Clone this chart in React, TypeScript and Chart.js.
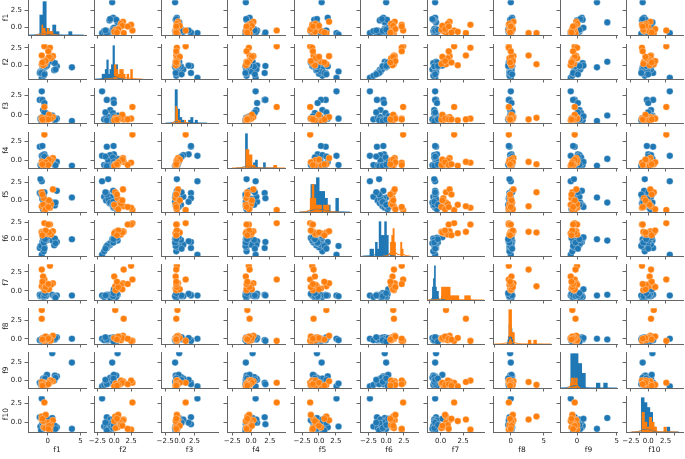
import React, { useEffect, useRef } from "react";
import { Chart, registerables } from "chart.js";

Chart.register(...registerables);

// ---------- data ----------
const FEATURES = ["f1", "f2", "f3", "f4", "f5", "f6", "f7", "f8", "f9", "f10"];

// class 0 (blue)
const blueF1 = [3.7, 0.7, -0.9, -1.1, -1.2, -0.8, -0.5, -0.7, 1.4, -0.6, -0.5, 1.0, -0.6, -0.2, 1.1, -0.8, 1.2, -0.7, -0.3, -1.0, -0.1, -0.6, -0.5, -0.4];
const blueF2 = [-0.3, 0.5, -1.8, -0.9, -1.1, -0.1, -0.05, -0.6, -0.15, -1.5, -1.2, -0.7, -0.2, -0.1, 0.3, -0.9, -0.6, 0.4, -0.2, -1.1, -0.05, -0.15, -1.3, -0.1];
const blueF3 = [-0.8, -0.1, 3.0, -0.5, 1.9, 1.9, 1.5, 0.6, -0.5, -0.6, -0.4, -0.5, -0.6, -0.4, -0.7, -0.3, -0.6, -0.5, 0.2, -0.7, -0.2, -0.8, 0.3, -0.6];
const blueF4 = [-0.7, 0.2, 0.6, -0.6, 1.8, 1.9, 0.8, 0.7, -0.2, -0.6, -0.65, -0.55, -0.7, -0.6, -0.6, 0.0, -0.65, -0.6, 0.4, -0.75, -0.2, -0.7, 0.5, -0.55];
const blueF5 = [0.4, -0.3, 2.6, 2.9, 1.0, 0.3, -0.2, 0.5, 1.3, 0.5, 0.0, -0.4, -0.8, -1.0, -0.7, 0.2, -0.3, -1.2, -0.6, 0.8, -0.9, -0.2, 1.1, -0.6];
const blueF6 = [0.0, -0.2, -2.3, -1.0, -1.3, -0.4, -0.3, -0.8, -0.4, -1.8, -1.2, -0.9, -0.5, -0.2, 0.1, -0.8, -0.6, 0.2, -0.1, -1.0, 0.3, -0.5, -1.4, 0.0];
const blueF7 = [-0.6, -0.5, -0.6, -0.7, -0.5, -0.6, -0.4, -0.7, -0.6, -0.8, -0.6, -0.7, -0.3, -0.6, -0.8, -0.5, -0.9, -0.4, -0.7, -0.6, 0.2, -0.7, -0.6, -0.3];
const blueF8 = [0.0, -0.1, 0.0, -0.2, -0.2, -0.3, 0.1, -0.1, 0.2, -0.2, 0.0, 0.1, -0.2, 0.2, -0.1, 0.0, 0.1, -0.3, 0.0, -0.1, 0.1, -0.2, 0.2, -0.4];
const blueF9 = [2.5, 3.8, -0.8, -0.4, -0.3, -0.5, 0.1, 0.3, 0.6, -0.6, -0.4, 0.0, 0.2, -0.1, 0.7, -0.3, 0.4, -0.7, 0.5, -0.5, 0.8, -0.2, 0.1, 0.3];
const blueF10 = [-0.8, 0.6, 3.1, -0.5, 0.7, -0.2, 0.0, 0.4, -0.6, -0.5, -0.7, -0.9, -0.2, 0.2, -0.4, -0.1, -0.8, 0.3, 0.1, -1.0, 0.5, -0.7, 0.0, -0.3];

// class 1 (orange)
const orangeF1 = [-0.5, 0.35, -0.9, -0.9, 0.8, -0.6, 0.0, -0.4, 0.5, -0.7, 0.2, -0.3, 0.1, -0.8];
const orangeF2 = [2.7, 2.5, 1.4, 0.15, 1.3, 0.5, 0.9, 0.2, 1.0, 0.0, 1.2, 0.6, 2.0, 0.4];
const orangeF3 = [1.0, -0.5, -0.6, -0.4, -0.3, -0.7, -0.4, -0.6, -0.5, -0.7, 0.0, -0.5, -0.6, -0.6];
const orangeF4 = [3.4, -0.3, -0.2, -0.5, 0.3, -0.6, -0.1, -0.6, 0.0, -0.7, 0.1, -0.25, -0.6, -0.5];
const orangeF5 = [-1.3, -1.0, -0.8, 1.1, 1.5, 0.3, -0.3, -0.9, -0.5, -0.6, 0.0, -1.2, -0.9, 0.8];
const orangeF6 = [2.4, 2.2, 1.1, 1.0, 1.2, 0.9, 0.8, 1.1, 0.7, 0.9, 1.0, 1.3, 2.2, 0.6];
const orangeF7 = [1.5, 3.3, 2.8, 0.6, 1.0, 0.3, 0.6, 0.1, 0.8, 1.9, 0.2, 0.5, 0.9, 1.2];
const orangeF8 = [-0.3, -0.3, 2.7, 3.9, 0.4, -0.1, 0.2, 0.0, -0.2, 0.1, 0.1, 0.3, 0.0, -0.1];
const orangeF9 = [-0.3, 0.0, -0.2, -0.6, -0.1, -0.7, -0.5, -0.4, 0.0, -0.8, -0.3, -0.6, -0.5, -0.7];
const orangeF10 = [2.6, -0.9, 0.4, 0.8, 0.3, -0.6, 0.0, -0.7, -0.3, 0.2, -0.4, 1.0, -0.8, 0.5];

// axis limits per feature (columns: x, rows: y)
const X_MIN = [-3.0, -3.0, -3.2, -3.2, -3.7, -3.7, -1.5, -2.7, -2.15, -3.2];
const X_MAX = [5.85, 5.6, 6.5, 4.5, 4.75, 4.5, 4.8, 6.1, 5.02, 5.0];
const Y_MIN = [-1.18, -1.96, -1.06, -1.0, -1.58, -2.49, -1.2, -0.72, -1.03, -1.2];
const Y_MAX = [4.0, 2.99, 3.39, 3.7, 3.28, 2.82, 3.5, 4.12, 3.93, 3.39];

// tick values
const X_TICKS_F1 = [0, 5];
const X_TICKS_STD = [-2.5, 0, 2.5];
const X_TICKS = [X_TICKS_F1, X_TICKS_STD, X_TICKS_STD, X_TICKS_STD, X_TICKS_STD, X_TICKS_STD, X_TICKS_STD, X_TICKS_F1, X_TICKS_F1, X_TICKS_STD];
const X_TICK_DECIMALS = [0, 1, 1, 1, 1, 1, 1, 0, 0, 1];
const Y_TICKS = [0, 2.5];

const BLUE_FEATURES = [blueF1, blueF2, blueF3, blueF4, blueF5, blueF6, blueF7, blueF8, blueF9, blueF10];
const ORANGE_FEATURES = [orangeF1, orangeF2, orangeF3, orangeF4, orangeF5, orangeF6, orangeF7, orangeF8, orangeF9, orangeF10];

// ---------- layout / style ----------
const N = 10;
const GRID_LEFT = 28;
const COL_PITCH = 66.44;
const PLOT_W = 57.5;
const GRID_TOP = -0.3;
const ROW_PITCH = 44.08;
const PLOT_H = 35.6;
const PAD_L = 28;
const PAD_B = 27;
const PAD_T = 4;
const PAD_R = 6;

const BLUE = "#1f77b4";
const ORANGE = "#ff7f0e";
const SPINE = "#666666";
const TEXT = "#222222";
const FONT = "'DejaVu Sans', sans-serif";

function fmt(v: number, d: number) {
  const s = Math.abs(v) < 1e-9 ? (0).toFixed(d) : v.toFixed(d);
  return s.replace("-", "\u2212");
}

function histogram(values: number[]) {
  const lo = Math.min(...values);
  const hi = Math.max(...values);
  const w = (hi - lo) / 10;
  const counts = new Array(10).fill(0);
  values.forEach((v) => {
    let k = Math.floor((v - lo) / w + 1e-9);
    if (k >= 10) k = 9;
    if (k < 0) k = 0;
    counts[k]++;
  });
  return {
    width: w,
    bars: counts.map((n, k) => ({ x: lo + (k + 0.5) * w, y: n })).filter((b) => b.y > 0),
  };
}

function kde(values: number[]) {
  const n = values.length;
  const mean = values.reduce((a, b) => a + b, 0) / n;
  const sd = Math.sqrt(values.reduce((a, b) => a + (b - mean) * (b - mean), 0) / (n - 1));
  const bw = sd * Math.pow(n, -0.2);
  const lo = Math.min(...values) - 3 * bw;
  const hi = Math.max(...values) + 3 * bw;
  const pts: { x: number; y: number }[] = [];
  const steps = 120;
  for (let i = 0; i <= steps; i++) {
    const x = lo + ((hi - lo) * i) / steps;
    let s = 0;
    for (const v of values) s += Math.exp(-0.5 * ((x - v) / bw) * ((x - v) / bw));
    pts.push({ x, y: s / (n * bw * Math.sqrt(2 * Math.PI)) });
  }
  return pts;
}

function xScale(c: number, show: boolean) {
  return {
    type: "linear",
    position: "bottom",
    min: X_MIN[c],
    max: X_MAX[c],
    offset: false,
    grid: { display: true, drawOnChartArea: false, drawTicks: true, tickLength: 3.5, color: SPINE, lineWidth: 1 },
    border: { display: true, color: SPINE, width: 1 },
    ticks: {
      display: show,
      autoSkip: false,
      maxRotation: 0,
      minRotation: 0,
      padding: 1.5,
      color: TEXT,
      font: { family: FONT, size: 7 },
      callback: (v: number) => fmt(Number(v), X_TICK_DECIMALS[c]),
    },
    title: { display: show, text: FEATURES[c], color: TEXT, font: { family: FONT, size: 7.5 }, padding: { top: 0, bottom: 4 } },
    afterBuildTicks: (s: any) => {
      s.ticks = X_TICKS[c].filter((v) => v >= X_MIN[c] && v <= X_MAX[c]).map((v) => ({ value: v }));
    },
    afterFit: (s: any) => {
      s.height = PAD_B;
      s.paddingLeft = 0;
      s.paddingRight = 0;
      s.paddingTop = 0;
      s.paddingBottom = 0;
    },
  };
}

function yScale(r: number, show: boolean) {
  return {
    type: "linear",
    position: "left",
    min: Y_MIN[r],
    max: Y_MAX[r],
    offset: false,
    grid: { display: true, drawOnChartArea: false, drawTicks: true, tickLength: 3.5, color: SPINE, lineWidth: 1 },
    border: { display: true, color: SPINE, width: 1 },
    ticks: {
      display: show,
      autoSkip: false,
      padding: 2.5,
      color: TEXT,
      font: { family: FONT, size: 7 },
      callback: (v: number) => fmt(Number(v), 1),
    },
    title: { display: show, text: FEATURES[r], color: TEXT, font: { family: FONT, size: 7.5 }, padding: { top: 1.8, bottom: 0 } },
    afterBuildTicks: (s: any) => {
      s.ticks = Y_TICKS.filter((v) => v >= Y_MIN[r] && v <= Y_MAX[r]).map((v) => ({ value: v }));
    },
    afterFit: (s: any) => {
      s.width = PAD_L;
      s.paddingLeft = 0;
      s.paddingRight = 0;
      s.paddingTop = 0;
      s.paddingBottom = 0;
    },
  };
}

function buildConfig(r: number, c: number, plotW: number): any {
  const scales: any = { x: xScale(c, r === N - 1), y: yScale(r, c === 0) };
  const datasets: any[] = [];
  if (r === c) {
    const hb = histogram(BLUE_FEATURES[c]);
    const ho = histogram(ORANGE_FEATURES[c]);
    const kb = kde(BLUE_FEATURES[c]);
    const ko = kde(ORANGE_FEATURES[c]);
    const pxPerUnit = plotW / (X_MAX[c] - X_MIN[c]);
    const top =
      Math.max(
        ...hb.bars.map((b) => b.y),
        ...ho.bars.map((b) => b.y),
        ...kb.map((p) => p.y),
        ...ko.map((p) => p.y)
      ) * 1.05;
    scales.yh = { type: "linear", display: false, min: 0, max: top };
    datasets.push(
      { type: "bar", data: hb.bars, backgroundColor: BLUE, borderWidth: 0, barThickness: Math.max(1, hb.width * pxPerUnit), grouped: false, xAxisID: "x", yAxisID: "yh", order: 4 },
      { type: "bar", data: ho.bars, backgroundColor: ORANGE, borderWidth: 0, barThickness: Math.max(1, ho.width * pxPerUnit), grouped: false, xAxisID: "x", yAxisID: "yh", order: 3 },
      { type: "line", data: kb, borderColor: BLUE, borderWidth: 1, pointRadius: 0, fill: false, showLine: true, tension: 0, xAxisID: "x", yAxisID: "yh", order: 2 },
      { type: "line", data: ko, borderColor: ORANGE, borderWidth: 1, pointRadius: 0, fill: false, showLine: true, tension: 0, xAxisID: "x", yAxisID: "yh", order: 1 }
    );
  } else {
    const pt = { pointRadius: 3.3, pointBorderColor: "#ffffff", pointBorderWidth: 0.3, showLine: false };
    datasets.push(
      {
        type: "scatter",
        data: BLUE_FEATURES[c].map((x, k) => ({ x, y: BLUE_FEATURES[r][k] })),
        pointBackgroundColor: BLUE,
        backgroundColor: BLUE,
        ...pt,
        order: 2,
      },
      {
        type: "scatter",
        data: ORANGE_FEATURES[c].map((x, k) => ({ x, y: ORANGE_FEATURES[r][k] })),
        pointBackgroundColor: ORANGE,
        backgroundColor: ORANGE,
        ...pt,
        order: 1,
      }
    );
  }
  return {
    type: "scatter",
    data: { datasets },
    options: {
      responsive: false,
      maintainAspectRatio: false,
      animation: false,
      devicePixelRatio: 1,
      events: [],
      layout: { padding: { left: 0, right: PAD_R, top: PAD_T, bottom: 0 } },
      plugins: { legend: { display: false }, tooltip: { enabled: false } },
      scales,
    },
  };
}

type Cell = { r: number; c: number; left: number; top: number; w: number; h: number; plotW: number };

function makeCells(): Cell[] {
  const cells: Cell[] = [];
  for (let r = 0; r < N; r++) {
    for (let c = 0; c < N; c++) {
      const pl = Math.round(GRID_LEFT + c * COL_PITCH);
      const pr = Math.round(GRID_LEFT + c * COL_PITCH + PLOT_W);
      const pt = Math.round(GRID_TOP + r * ROW_PITCH);
      const pb = Math.round(GRID_TOP + r * ROW_PITCH + PLOT_H);
      cells.push({
        r,
        c,
        left: pl - PAD_L,
        top: pt - PAD_T,
        w: pr - pl + PAD_L + PAD_R,
        h: pb - pt + PAD_T + PAD_B,
        plotW: pr - pl,
      });
    }
  }
  return cells;
}

const CELLS = makeCells();

export default function App() {
  const refs = useRef<(HTMLCanvasElement | null)[]>([]);

  useEffect(() => {
    const charts: Chart[] = [];
    CELLS.forEach((cell, i) => {
      const cv = refs.current[i];
      if (!cv) return;
      charts.push(new Chart(cv, buildConfig(cell.r, cell.c, cell.plotW)));
    });
    return () => charts.forEach((ch) => ch.destroy());
  }, []);

  return (
    <div
      style={{
        position: "absolute",
        left: 0,
        top: 0,
        width: 685,
        height: 459,
        overflow: "hidden",
        background: "#ffffff",
      }}
    >
      {CELLS.map((cell, i) => (
        <canvas
          key={i}
          ref={(el) => {
            refs.current[i] = el;
          }}
          width={cell.w}
          height={cell.h}
          style={{ position: "absolute", left: cell.left, top: cell.top, width: cell.w, height: cell.h }}
        />
      ))}
    </div>
  );
}
